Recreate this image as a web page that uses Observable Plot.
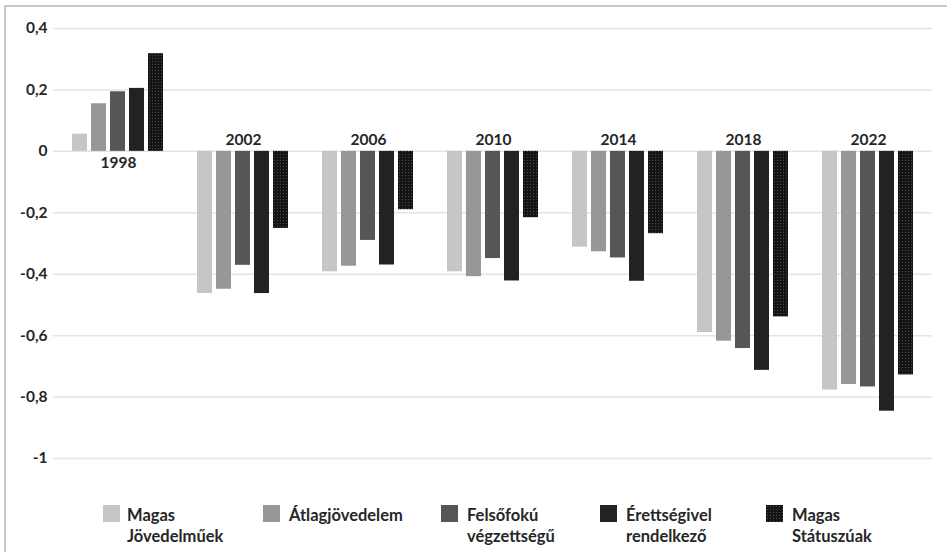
<!DOCTYPE html>
<html><head><meta charset="utf-8">
<script src="https://cdn.jsdelivr.net/npm/d3@7"></script>
<script src="https://cdn.jsdelivr.net/npm/@observablehq/plot@0.6"></script>
<style>
html,body{margin:0;padding:0;background:#fff;overflow:hidden;width:947px;height:552px;}
#frame{position:absolute;left:4px;top:5px;width:990px;height:600px;border:2px solid #c9c9c9;box-sizing:border-box;pointer-events:none;}
#grid,#chart{position:absolute;left:0;top:0;}
.leg{position:absolute;font-family:Lato,"Open Sans",sans-serif;font-weight:700;font-size:16.5px;line-height:21px;color:#262626;white-space:nowrap;}
.sw{position:absolute;width:17px;height:17px;}
</style></head>
<body>
<svg width="0" height="0" style="position:absolute;left:0;top:0">
  <defs>
    <pattern id="dots" patternUnits="userSpaceOnUse" width="3" height="3">
      <rect width="3" height="3" fill="#141414"></rect>
      <rect x="1" y="1" width="1" height="1" fill="#4a4a4a"></rect>
    </pattern>
  </defs>
</svg>
<div id="grid"></div>
<div id="chart"></div>
<div id="legend"></div>
<div id="frame"></div>
<script>
// ---- data ----
const years = ["1998", "2002", "2006", "2010", "2014", "2018", "2022"];
const series = ["Magas Jövedelműek", "Átlagjövedelem", "Felsőfokú végzettségű", "Érettségivel rendelkező", "Magas Státuszúak"];
const legendLines = [["Magas", "Jövedelműek"], ["Átlagjövedelem"], ["Felsőfokú", "végzettségű"], ["Érettségivel", "rendelkező"], ["Magas", "Státuszúak"]];
const magasJovedelmuek = [0.056, -0.463, -0.392, -0.392, -0.312, -0.590, -0.777];
const atlagjovedelem   = [0.155, -0.449, -0.374, -0.408, -0.327, -0.618, -0.759];
const felsofoku        = [0.194, -0.371, -0.290, -0.349, -0.347, -0.642, -0.767];
const erettsegivel     = [0.205, -0.463, -0.370, -0.422, -0.423, -0.713, -0.846];
const magasStatuszuak  = [0.318, -0.251, -0.190, -0.216, -0.268, -0.539, -0.728];
const yTicks = [0.4, 0.2, 0, -0.2, -0.4, -0.6, -0.8, -1];

// ---- styles ----
const colors = ["#c6c6c6", "#979797", "#565656", "#222222", "url(#dots)"];
const seriesValues = [magasJovedelmuek, atlagjovedelem, felsofoku, erettsegivel, magasStatuszuak];

const rows = [];
years.forEach((yr, i) => series.forEach((s, j) => rows.push({year: yr, series: s, value: seriesValues[j][i]})));
const groupMax = years.map((yr, i) => d3.max(seriesValues, v => v[i]));
const labelsBelow = years.filter((yr, i) => groupMax[i] > 0).map(yr => ({year: yr}));
const labelsAbove = years.filter((yr, i) => groupMax[i] <= 0).map(yr => ({year: yr}));
const fmt = d => String(d).replace(".", ",");

const font = 'Lato, "Open Sans", sans-serif';
const common = {
  width: 947, height: 490,
  marginTop: 28, marginBottom: 32, marginLeft: 53, marginRight: 15,
  style: {fontFamily: font, background: "transparent", color: "#262626"},
  y: {domain: [-1, 0.4], axis: null}
};

// background: gridlines and y tick labels
const gridPlot = Plot.plot({
  ...common,
  marks: [
    Plot.ruleY(yTicks, {y: d => d, stroke: "#e3e3e3", strokeWidth: 1.5}),
    Plot.text(yTicks, {y: d => d, text: fmt, frameAnchor: "left", textAnchor: "end", dx: -6, fontWeight: 700, fontSize: 15.5, fill: "#262626"})
  ]
});
document.getElementById("grid").appendChild(gridPlot);

// foreground: grouped bars and year labels
const plot = Plot.plot({
  ...common,
  fx: {domain: years, paddingInner: 0.265, paddingOuter: 0.14, axis: null},
  x: {domain: series, paddingInner: 0.2, paddingOuter: 0, axis: null},
  color: {domain: series, range: colors},
  marks: [
    Plot.barY(rows, {fx: "year", x: "series", y: "value", fill: "series"}),
    Plot.text(labelsBelow, {fx: "year", y: () => 0, text: "year", dy: 12, fontWeight: 700, fontSize: 15.5, fill: "#262626"}),
    Plot.text(labelsAbove, {fx: "year", y: () => 0, text: "year", dy: -11, fontWeight: 700, fontSize: 15.5, fill: "#262626"})
  ]
});
document.getElementById("chart").appendChild(plot);

// ---- legend ----
const legSwatchX = [103, 263, 441, 600, 766];
const legTextX = [127, 289, 467, 626, 792];
const legend = document.getElementById("legend");
series.forEach((s, j) => {
  const sw = document.createElementNS("http://www.w3.org/2000/svg", "svg");
  sw.setAttribute("class", "sw");
  sw.setAttribute("width", 17); sw.setAttribute("height", 17);
  sw.style.left = legSwatchX[j] + "px"; sw.style.top = "505px";
  const r = document.createElementNS("http://www.w3.org/2000/svg", "rect");
  r.setAttribute("width", 17); r.setAttribute("height", 17); r.setAttribute("fill", colors[j]);
  sw.appendChild(r);
  legend.appendChild(sw);
  const t = document.createElement("div");
  t.className = "leg";
  t.style.left = legTextX[j] + "px"; t.style.top = "505px";
  t.innerHTML = legendLines[j].join("<br>");
  legend.appendChild(t);
});
</script>
</body></html>
